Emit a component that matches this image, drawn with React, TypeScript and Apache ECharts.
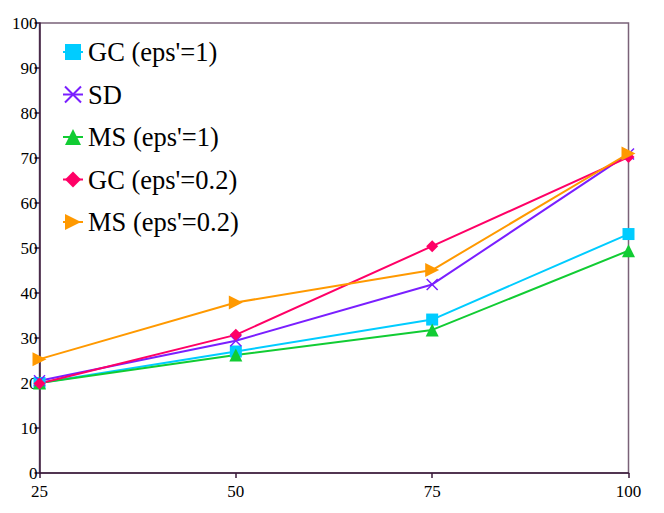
import React, { useEffect, useRef } from "react";
import * as echarts from "echarts";

const xValues = [25, 50, 75, 100];
const seriesNames = ["GC (eps'=1)", "SD", "MS (eps'=1)", "GC (eps'=0.2)", "MS (eps'=0.2)"];
const gc1 = [20, 27, 34.1, 53.1];
const sd = [20.5, 29.4, 41.9, 70.9];
const ms1 = [20, 26.2, 31.8, 49.4];
const gc02 = [19.9, 30.7, 50.4, 70.2];
const ms02 = [25.3, 37.9, 45.1, 71];
const colors = ["#00ccff", "#7a1fff", "#11cc33", "#ff0066", "#ff9900"];

const FONT = "Liberation Serif";

export default function App() {
  const ref = useRef<HTMLDivElement>(null);
  useEffect(() => {
    document.body.style.margin = "0";
    const chart = echarts.init(ref.current!, null, { renderer: "svg" });
    const values = [gc1, sd, ms1, gc02, ms02];
    const symbols = ["rect", "path://M0,0L10,10M10,0L0,10", "triangle", "diamond", "triangle"];
    const sizes = [12, 11, 13, 12, 14];
    const rotates = [0, 0, 0, 0, -90];
    chart.setOption({
      animation: false,
      textStyle: { fontFamily: FONT },
      grid: {
        left: 39.5,
        top: 23,
        right: 35.5,
        bottom: 40,
        show: true,
        borderColor: "#7a6278",
        borderWidth: 1.5,
      },
      legend: {
        orient: "vertical",
        left: 62,
        top: 38,
        padding: 0,
        itemWidth: 20,
        itemHeight: 20,
        itemGap: 14.5,
        textStyle: { fontFamily: FONT, fontSize: 26.5, color: "#000", lineHeight: 28 },
        data: seriesNames,
      },
      xAxis: {
        type: "value",
        min: 25,
        max: 100,
        interval: 25,
        splitLine: { show: false },
        axisLine: { show: true, lineStyle: { color: "#3a1a3a", width: 1.5 } },
        axisTick: { show: true, length: 5, lineStyle: { color: "#3a1a3a", width: 1.5 } },
        axisLabel: { fontFamily: FONT, fontSize: 17, color: "#000", margin: 10 },
      },
      yAxis: {
        type: "value",
        min: 0,
        max: 100,
        interval: 10,
        splitLine: { show: false },
        axisLine: { show: true, lineStyle: { color: "#3a1a3a", width: 1.5 } },
        axisTick: { show: true, length: 5, lineStyle: { color: "#3a1a3a", width: 1.5 } },
        axisLabel: { fontFamily: FONT, fontSize: 17, color: "#000", margin: 2 },
      },
      series: seriesNames.map((name, i) => ({
        name,
        type: "line",
        data: xValues.map((x, j) => [x, values[i][j]]),
        symbol: symbols[i],
        symbolSize: sizes[i],
        symbolRotate: rotates[i],
        showAllSymbol: true,
        lineStyle: { color: colors[i], width: 2 },
        itemStyle:
          i === 1
            ? { color: colors[i], borderColor: colors[i], borderWidth: 1.5 }
            : { color: colors[i], borderWidth: 0 },
      })),
    });
    return () => chart.dispose();
  }, []);
  return <div ref={ref} style={{ width: 664, height: 513 }} />;
}
